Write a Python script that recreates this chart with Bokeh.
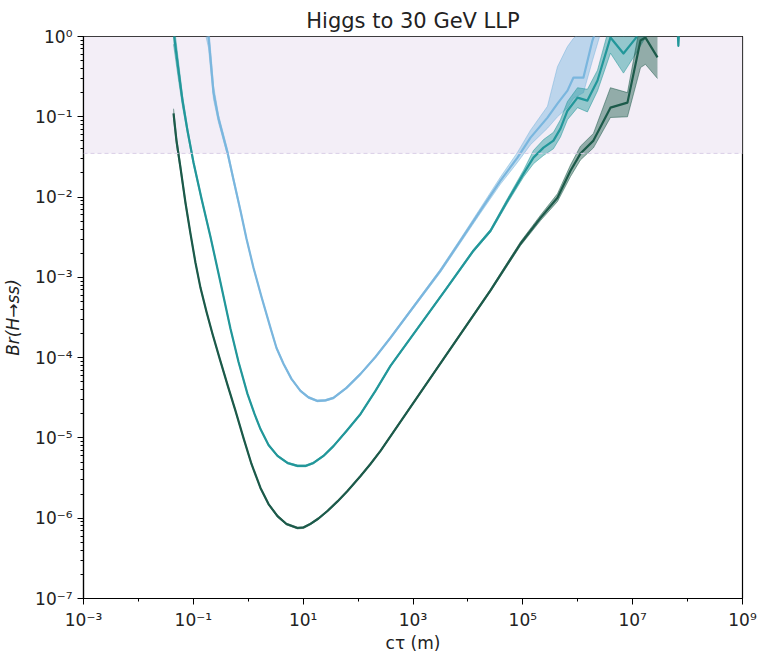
from bokeh.plotting import figure
from bokeh.models import FixedTicker, BoxAnnotation, Span
from bokeh.embed import file_html
from bokeh.resources import INLINE

TITLE = "Higgs to 30 GeV LLP"
X_LABEL = "cτ (m)"
Y_LABEL = "Br(H→ss)"

# excluded-region boundary on the branching ratio
BR_LIMIT = 0.035

X_TICKS = [1e-3, 1e-1, 1e1, 1e3, 1e5, 1e7, 1e9]
X_TICK_LABELS = ["10⁻³", "10⁻¹", "10¹", "10³", "10⁵", "10⁷", "10⁹"]
Y_TICKS = [1e-7, 1e-6, 1e-5, 1e-4, 1e-3, 1e-2, 1e-1, 1e0]
Y_TICK_LABELS = ["10⁻⁷", "10⁻⁶", "10⁻⁵", "10⁻⁴", "10⁻³", "10⁻²", "10⁻¹", "10⁰"]

# dark green curve: lifetime, central limit, lower and upper edge of its band
DARK_CT = [0.0436, 0.0493, 0.0583, 0.0719, 0.0887, 0.1094, 0.135, 0.1736, 0.223, 0.299,
           0.419, 0.586, 0.818, 1.145, 1.67, 2.34, 3.41, 4.97, 7.88, 10.1,
           13.6, 19.0, 27.7, 42.2, 64.1, 111, 168, 256, 3160, 2.58e4,
           9.06e4, 2.1e5, 4.27e5, 7.37e5, 1.12e6, 1.93e6, 3.94e6, 8.04e6, 1.39e7, 1.71e7,
           2.83e7]
DARK_BR = [0.110, 0.0505, 0.0233, 8.5e-3, 3.5e-3, 1.52e-3, 7.4e-4, 3.72e-4, 1.98e-4, 9.95e-5,
           4.58e-5, 2.17e-5, 1.0e-5, 4.74e-6, 2.38e-6, 1.50e-6, 1.06e-6, 8.47e-7, 7.55e-7, 7.66e-7,
           8.5e-7, 9.91e-7, 1.23e-6, 1.62e-6, 2.18e-6, 3.36e-6, 4.74e-6, 6.9e-6, 8.5e-5, 6.9e-4,
           2.62e-3, 5.5e-3, 9.8e-3, 0.0213, 0.0348, 0.0505, 0.130, 0.150, 0.89, 0.97,
           0.55]
DARK_LO = [0.096, 0.045, 0.0214, 8.0e-3, 3.35e-3, 1.47e-3, 7.2e-4, 3.63e-4, 1.93e-4, 9.7e-5,
           4.46e-5, 2.12e-5, 0.975e-5, 4.62e-6, 2.32e-6, 1.46e-6, 1.03e-6, 8.26e-7, 7.36e-7, 7.47e-7,
           8.29e-7, 9.66e-7, 1.2e-6, 1.58e-6, 2.13e-6, 3.28e-6, 4.62e-6, 6.73e-6, 8.25e-5, 6.65e-4,
           2.48e-3, 5.1e-3, 8.8e-3, 0.018, 0.029, 0.041, 0.098, 0.10, 0.41, 0.45,
           0.30]
DARK_HI = [0.126, 0.056, 0.0254, 9.0e-3, 3.65e-3, 1.57e-3, 7.6e-4, 3.81e-4, 2.03e-4, 1.02e-4,
           4.7e-5, 2.22e-5, 1.025e-5, 4.86e-6, 2.44e-6, 1.54e-6, 1.09e-6, 8.68e-7, 7.74e-7, 7.85e-7,
           8.71e-7, 1.016e-6, 1.26e-6, 1.66e-6, 2.23e-6, 3.44e-6, 4.86e-6, 7.07e-6, 8.75e-5, 7.15e-4,
           2.77e-3, 5.95e-3, 1.1e-2, 0.025, 0.043, 0.062, 0.23, 0.20, 1.5, 1.6,
           1.2]

# teal curve
TEAL_CT = [0.0436, 0.0537, 0.0635, 0.0783, 0.1007, 0.141, 0.205, 0.313, 0.475, 0.664,
           0.968, 1.30, 1.67, 2.34, 3.41, 5.18, 7.88, 11.0, 15.4, 23.4,
           35.6, 61.5, 111, 207, 389, 3900, 1.26e4, 2.58e4, 5.25e4, 1.03e5,
           1.56e5, 2.38e5, 3.61e5, 4.84e5, 6.5e5, 9.9e5, 1.5e6, 2.29e6, 3.94e6, 6.8e6,
           1.12e7, 2.2e7, 6.5e7, 6.8e7, 7.1e7]
TEAL_BR = [1.15, 0.377, 0.159, 0.0673, 0.0269, 9.55e-3, 3.21e-3, 8.57e-4, 2.29e-4, 8.87e-5,
           3.54e-5, 1.99e-5, 1.29e-5, 8.18e-6, 5.97e-6, 4.88e-6, 4.48e-6, 4.48e-6, 4.88e-6, 5.97e-6,
           7.9e-6, 1.22e-5, 1.99e-5, 3.85e-5, 7.9e-5, 7.0e-4, 2.15e-3, 3.81e-3, 9.0e-3, 0.0196,
           0.031, 0.0413, 0.0505, 0.0713, 0.119, 0.173, 0.159, 0.283, 0.97, 0.614,
           0.94, 2.0, 1.5, 0.77, 1.5]
TEAL_LO = [0.8, 0.29, 0.135, 0.061, 0.0252, 9.1e-3, 3.1e-3, 8.35e-4, 2.23e-4, 8.65e-5,
           3.45e-5, 1.94e-5, 1.26e-5, 7.98e-6, 5.82e-6, 4.76e-6, 4.37e-6, 4.37e-6, 4.76e-6, 5.82e-6,
           7.7e-6, 1.19e-5, 1.94e-5, 3.75e-5, 7.7e-5, 6.8e-4, 2.07e-3, 3.64e-3, 8.4e-3, 0.0178,
           0.026, 0.033, 0.040, 0.056, 0.092, 0.13, 0.115, 0.21, 0.62, 0.35,
           0.6, 1.3, 1.2, 0.74, 1.2]
TEAL_HI = [1.6, 0.48, 0.185, 0.074, 0.0287, 1.0e-2, 3.32e-3, 8.8e-4, 2.35e-4, 9.1e-5,
           3.63e-5, 2.04e-5, 1.32e-5, 8.38e-6, 6.12e-6, 5.0e-6, 4.59e-6, 4.59e-6, 5.0e-6, 6.12e-6,
           8.1e-6, 1.25e-5, 2.04e-5, 3.95e-5, 8.1e-5, 7.2e-4, 2.23e-3, 3.98e-3, 9.6e-3, 0.0216,
           0.038, 0.052, 0.064, 0.092, 0.155, 0.23, 0.22, 0.38, 1.5, 1.0,
           1.4, 3.0, 2.0, 0.8, 2.0]

# light blue curve
BLUE_CT = [0.17, 0.189, 0.233, 0.287, 0.419, 0.538, 0.722, 0.929, 1.245, 1.74,
           2.54, 3.27, 4.38, 6.12, 8.93, 12.5, 18.2, 25.5, 35.6, 61.5,
           111, 207, 389, 3160, 7330, 1.69e4, 3.92e4, 7.98e4, 1.38e5, 2.81e5,
           4.27e5, 6.5e5, 8.36e5, 1.27e6, 1.85e6, 2.5e6]
BLUE_BR = [1.5, 1.0, 0.2, 0.095, 0.0358, 0.0165, 6.77e-3, 3.03e-3, 1.32e-3, 5.73e-4,
           2.35e-4, 1.32e-4, 8.4e-5, 5.44e-5, 3.85e-5, 3.2e-5, 2.89e-5, 2.94e-5, 3.15e-5, 4.2e-5,
           6.28e-5, 1.02e-4, 1.77e-4, 1.21e-3, 2.86e-3, 6.77e-3, 0.016, 0.031, 0.055, 0.0977,
           0.146, 0.212, 0.308, 0.308, 0.89, 1.6]
BLUE_LO = [1.0, 0.72, 0.165, 0.085, 0.033, 0.0155, 6.45e-3, 2.92e-3, 1.28e-3, 5.56e-4,
           2.28e-4, 1.28e-4, 8.17e-5, 5.3e-5, 3.75e-5, 3.12e-5, 2.82e-5, 2.87e-5, 3.07e-5, 4.1e-5,
           6.12e-5, 0.995e-4, 1.72e-4, 1.15e-3, 2.7e-3, 6.3e-3, 0.0145, 0.027, 0.045, 0.072,
           0.10, 0.13, 0.17, 0.2, 0.5, 1.0]
BLUE_HI = [2.2, 1.4, 0.245, 0.106, 0.039, 0.0176, 7.1e-3, 3.14e-3, 1.36e-3, 5.9e-4,
           2.42e-4, 1.36e-4, 8.63e-5, 5.58e-5, 3.95e-5, 3.28e-5, 2.96e-5, 3.01e-5, 3.23e-5, 4.3e-5,
           6.44e-5, 1.045e-4, 1.82e-4, 1.27e-3, 3.03e-3, 7.3e-3, 0.0178, 0.036, 0.068, 0.135,
           0.42, 0.75, 0.95, 1.2, 1.5, 2.4]

FONT = "DejaVu Sans"

p = figure(width=760, height=655, x_axis_type="log", y_axis_type="log",
           x_range=(1e-3, 1e9), y_range=(1e-7, 1),
           output_backend="svg", toolbar_location=None, title=TITLE,
           min_border_left=83, min_border_right=18, min_border_top=36, min_border_bottom=57)

p.background_fill_color = "white"
p.border_fill_color = "white"
p.grid.visible = False
p.outline_line_color = "black"
p.outline_line_width = 1.2

p.title.text_font = FONT
p.title.text_font_size = "21px"
p.title.text_font_style = "normal"
p.title.align = "center"
p.title.text_color = "#222222"
p.title.standoff = 7

# shaded excluded region and its dashed edge
p.add_layout(BoxAnnotation(bottom=BR_LIMIT, fill_color="#f3eef7", fill_alpha=1.0,
                           line_color=None, level="underlay"))
p.add_layout(Span(location=BR_LIMIT, dimension="width", line_color="#d9cfe6",
                  line_dash="4 3", line_width=1))

series = [
    (BLUE_CT, BLUE_BR, BLUE_LO, BLUE_HI, "#7ab6de"),
    (TEAL_CT, TEAL_BR, TEAL_LO, TEAL_HI, "#22979a"),
    (DARK_CT, DARK_BR, DARK_LO, DARK_HI, "#1c5a4a"),
]
for ct, br, lo, hi, col in series:
    p.varea(x=ct, y1=lo, y2=hi, fill_color=col, fill_alpha=0.45)
    p.line(ct, lo, line_color=col, line_alpha=0.5, line_width=1)
    p.line(ct, hi, line_color=col, line_alpha=0.5, line_width=1)
    p.line(ct, br, line_color=col, line_width=2.2, line_join="round")

xminor = [10.0 ** e for e in range(-3, 10)]
yminor = [k * 10.0 ** e for e in range(-7, 0) for k in range(2, 10)]
p.xaxis.ticker = FixedTicker(ticks=X_TICKS, minor_ticks=xminor)
p.yaxis.ticker = FixedTicker(ticks=Y_TICKS, minor_ticks=yminor)
p.xaxis.major_label_overrides = dict(zip(X_TICKS, X_TICK_LABELS))
p.yaxis.major_label_overrides = dict(zip(Y_TICKS, Y_TICK_LABELS))

for ax in (p.xaxis[0], p.yaxis[0]):
    ax.major_label_text_font = FONT
    ax.major_label_text_font_size = "17px"
    ax.major_label_text_color = "#222222"
    ax.axis_label_text_font = FONT
    ax.axis_label_text_font_size = "17px"
    ax.axis_label_text_color = "#222222"
    ax.major_tick_out = 6
    ax.major_tick_in = 0
    ax.minor_tick_out = 3
    ax.minor_tick_in = 0
    ax.axis_line_color = "black"
    ax.axis_line_width = 1.2
    ax.major_label_standoff = 5

p.xaxis.axis_label = X_LABEL
p.xaxis.axis_label_text_font_style = "normal"
p.xaxis.axis_label_standoff = 0
p.yaxis.axis_label = Y_LABEL
p.yaxis.axis_label_text_font_style = "italic"
p.yaxis.axis_label_standoff = 9

open("out.html", "w").write(file_html(p, INLINE, title=TITLE))
